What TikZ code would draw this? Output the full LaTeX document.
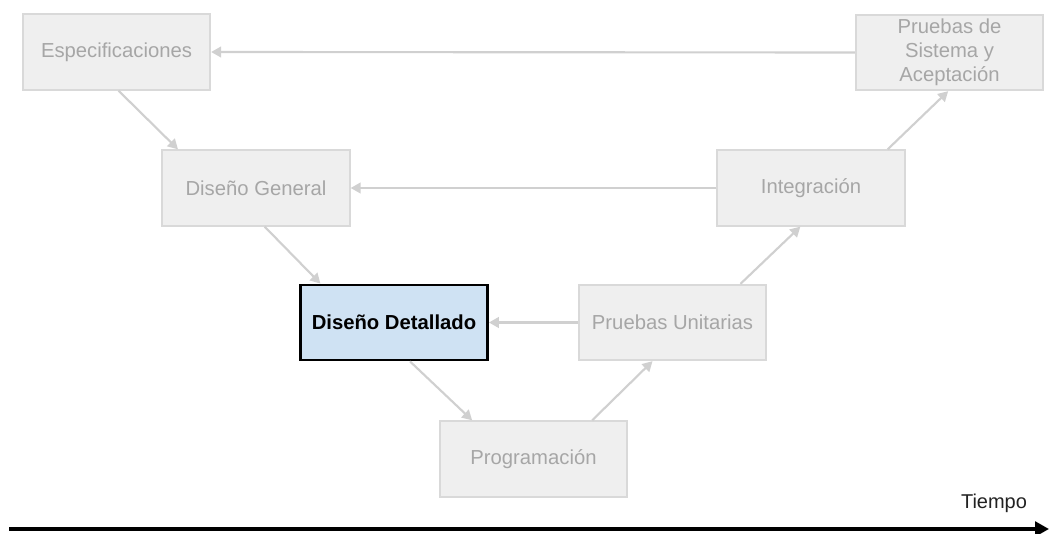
\documentclass[tikz,border=0pt]{standalone}
\usepackage{fontspec}
\setmainfont{Liberation Sans}
\usetikzlibrary{arrows.meta}
\definecolor{boxfill}{HTML}{EFEFEF}
\definecolor{boxline}{HTML}{D9D9D9}
\definecolor{boxtext}{HTML}{A6A6A6}
\definecolor{connline}{HTML}{D0D0D0}
\definecolor{focusfill}{HTML}{CFE2F3}
\definecolor{timetext}{HTML}{222222}
\tikzset{
  phase/.style={draw=boxline, fill=boxfill, line width=1.5pt, text=boxtext,
    minimum width=140.5pt, minimum height=56.5pt, inner sep=0pt, align=center,
    font=\fontsize{15.2}{18}\selectfont},
  focus/.style={phase, draw=black, fill=focusfill, text=black, line width=1.9pt,
    font=\fontsize{15.2}{18}\selectfont\bfseries},
  conn/.style={draw=connline, line width=1.6pt,
    -{Triangle[length=7.5pt,width=8pt]}},
  timeline/.style={draw=black, line width=3pt,
    -{Triangle[length=10.5pt,width=11pt]}}
}
\begin{document}
\begin{tikzpicture}[x=0.75pt, y=-0.75pt]
  \useasboundingbox (0,0) rectangle (1049,534);

  % V-model phases
  \node[phase] (esp)  at (116.5,52)  {Especificaciones};
  \node[phase] (psa)  at (949.5,52.5) {Pruebas de\\Sistema y\\Aceptación};
  \node[phase] (dg)   at (256,188)   {Diseño General};
  \node[phase] (int)  at (811,188)   {Integración};
  \node[focus] (dd)   at (394,322.5) {Diseño Detallado};
  \node[phase] (pu)   at (672.5,322.5) {Pruebas Unitarias};
  \node[phase] (prog) at (533.5,459) {Programación};

  % descending branch
  \draw[conn] ([xshift=1.5pt]esp.south) -- ([xshift=12.5pt]dg.north west);
  \draw[conn] ([xshift=6.5pt]dg.south) -- ([xshift=16pt]dd.north west);
  \draw[conn] ([xshift=12pt]dd.south) -- ([xshift=25pt]prog.north west);

  % ascending branch
  \draw[conn] ([xshift=-27pt]prog.north east) -- ([xshift=-15pt]pu.south);
  \draw[conn] ([xshift=-20pt]pu.north east) -- ([xshift=-8pt]int.south);
  \draw[conn] ([xshift=-13.5pt]int.north east) -- ([xshift=-1pt]psa.south);

  % verification links
  \draw[conn] (psa.west) -- (esp.east);
  \draw[conn] (int.west) -- (dg.east);
  \draw[conn] (pu.west) -- (dd.east);

  % time axis
  \coordinate (t0) at (9,529);
  \coordinate (t1) at (1049,529);
  \draw[timeline] (t0) -- (t1);
  \node[text=timetext, font=\fontsize{15}{18}\selectfont, anchor=base] (tiempo) at (994,508) {Tiempo};
\end{tikzpicture}
\end{document}
